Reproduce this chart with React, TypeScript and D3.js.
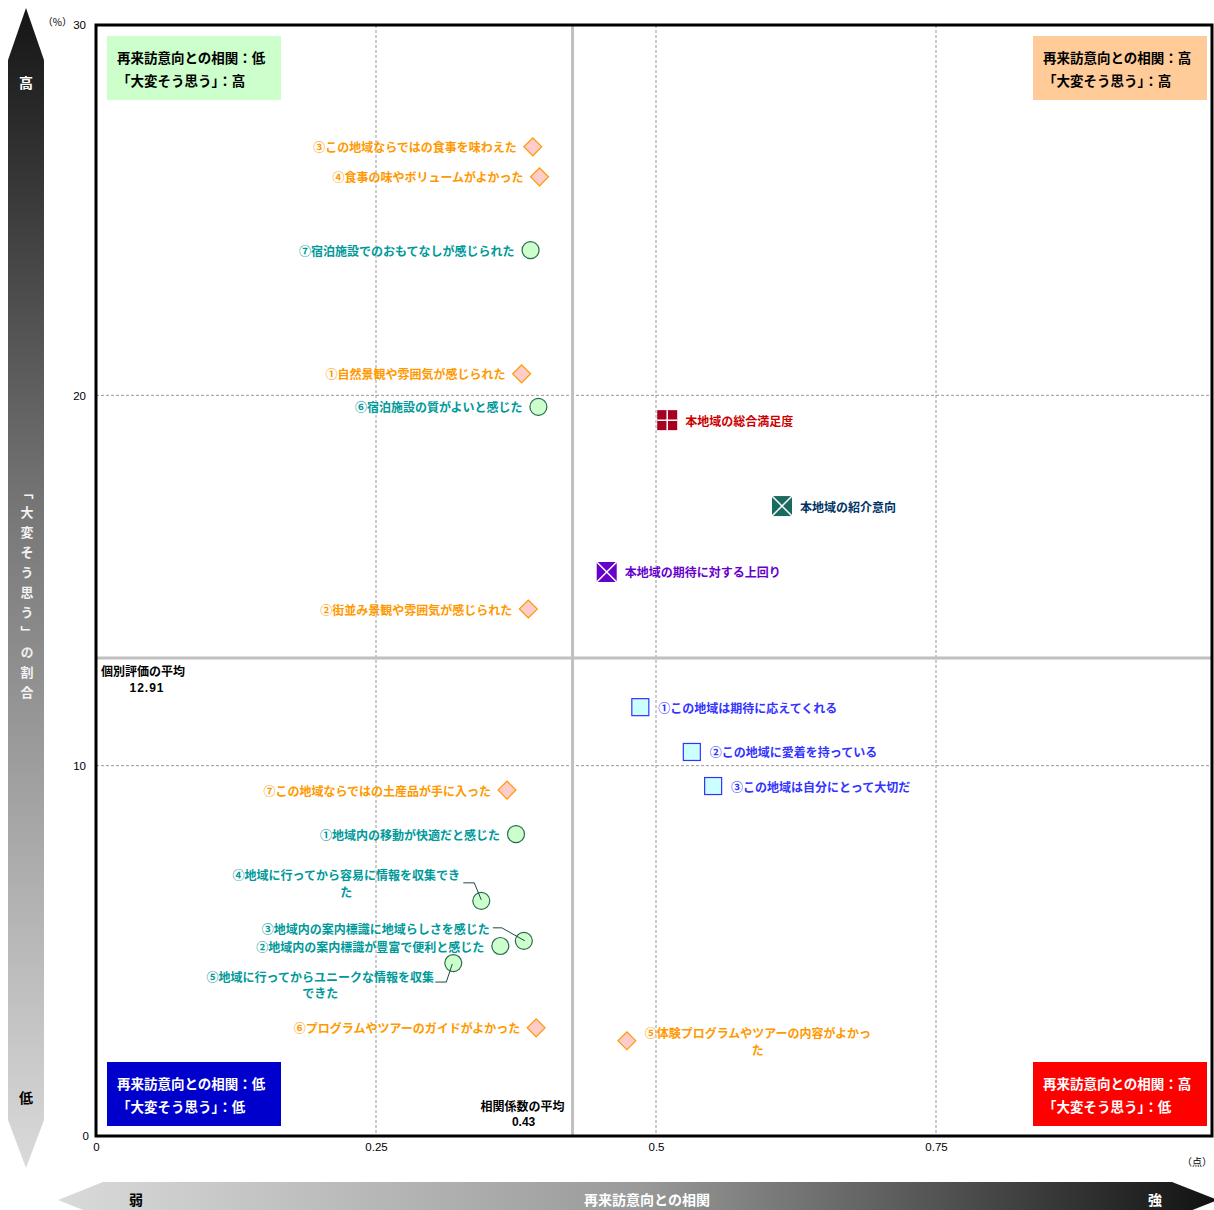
import { useEffect, useRef } from "react";
import * as d3 from "d3";

// 旅行体験の項目（◇）
const experienceItems = [
  "③この地域ならではの食事を味わえた",
  "④食事の味やボリュームがよかった",
  "①自然景観や雰囲気が感じられた",
  "②街並み景観や雰囲気が感じられた",
  "⑦この地域ならではの土産品が手に入った",
  "⑥プログラムやツアーのガイドがよかった",
  "⑤体験プログラムやツアーの内容がよかった",
];
const experienceCorr = [0.39, 0.396, 0.38, 0.386, 0.367, 0.393, 0.474];
const experienceShare = [26.71, 25.9, 20.58, 14.23, 9.34, 2.92, 2.57];

// 受入環境の項目（○）
const serviceItems = [
  "⑦宿泊施設でのおもてなしが感じられた",
  "⑥宿泊施設の質がよいと感じた",
  "①地域内の移動が快適だと感じた",
  "④地域に行ってから容易に情報を収集できた",
  "③地域内の案内標識に地域らしさを感じた",
  "②地域内の案内標識が豊富で便利と感じた",
  "⑤地域に行ってからユニークな情報を収集できた",
];
const serviceCorr = [0.388, 0.395, 0.375, 0.344, 0.382, 0.361, 0.319];
const serviceShare = [23.92, 19.69, 8.15, 6.35, 5.27, 5.13, 4.67];

// 地域への愛着（□）
const attachmentItems = [
  "①この地域は期待に応えてくれる",
  "②この地域に愛着を持っている",
  "③この地域は自分にとって大切だ",
];
const attachmentCorr = [0.486, 0.532, 0.551];
const attachmentShare = [11.58, 10.37, 9.45];

// 総合指標
const overallItems = ["本地域の総合満足度", "本地域の紹介意向", "本地域の期待に対する上回り"];
const overallCorr = [0.51, 0.6125, 0.456];
const overallShare = [19.33, 17.01, 15.23];

const meanCorr = 0.4255;
const meanShare = 12.91;
const meanCorrLabel = "0.43";
const meanShareLabel = "12.91";

const xTicks = [0, 0.25, 0.5, 0.75];
const xTickLabels = ["0", "0.25", "0.5", "0.75"];
const yTicks = [0, 10, 20, 30];

const quadrantLines = [
  ["再来訪意向との相関：低", "「大変そう思う」：高"],
  ["再来訪意向との相関：高", "「大変そう思う」：高"],
  ["再来訪意向との相関：低", "「大変そう思う」：低"],
  ["再来訪意向との相関：高", "「大変そう思う」：低"],
];

// ラベルの配置（既定は左側、右寄せ）
type Placement = { anchor: string; dx: number; lines?: string[]; dys?: number[]; leader?: [number, number][] };
const labelPlacement: Record<string, Placement> = {
  "⑤体験プログラムやツアーの内容がよかった": {
    anchor: "middle", dx: 131, lines: ["⑤体験プログラムやツアーの内容がよかっ", "た"], dys: [-8, 9],
  },
  "④地域に行ってから容易に情報を収集できた": {
    anchor: "middle", dx: -135, lines: ["④地域に行ってから容易に情報を収集でき", "た"], dys: [-26, -9],
    leader: [[-18, -18], [-7, -18], [0, -1]],
  },
  "③地域内の案内標識に地域らしさを感じた": {
    anchor: "end", dx: -34, dys: [-12], leader: [[-31, -13], [-22, -13], [1, 0]],
  },
  "⑤地域に行ってからユニークな情報を収集できた": {
    anchor: "middle", dx: -133, lines: ["⑤地域に行ってからユニークな情報を収集", "できた"], dys: [13, 29],
    leader: [[-1, 1], [-7, 19], [-18, 19]],
  },
};

const FONT = "'Noto Sans CJK JP', 'Noto Sans', sans-serif";
const NUM_FONT = "'Liberation Sans Narrow', 'Liberation Sans', Arial, sans-serif";

const App: React.FC = () => {
  const chartRef = useRef<SVGSVGElement | null>(null);

  useEffect(() => {
    if (!chartRef.current) return;
    const W = 1214;
    const H = 1210;
    const plot = { left: 96, top: 25, right: 1212, bottom: 1136 };

    const svg = d3.select(chartRef.current).html("").attr("width", W).attr("height", H);

    const x = d3.scaleLinear().domain([0, 1]).range([plot.left, 1216]);
    const y = d3.scaleLinear().domain([0, 30]).range([plot.bottom, plot.top]);

    const defs = svg.append("defs");
    const vGrad = defs.append("linearGradient").attr("id", "vgrad").attr("x1", 0).attr("y1", 0).attr("x2", 0).attr("y2", 1);
    vGrad.append("stop").attr("offset", "0%").attr("stop-color", "#151515");
    vGrad.append("stop").attr("offset", "45%").attr("stop-color", "#7a7a7a");
    vGrad.append("stop").attr("offset", "100%").attr("stop-color", "#dadada");
    const hGrad = defs.append("linearGradient").attr("id", "hgrad").attr("x1", 0).attr("y1", 0).attr("x2", 1).attr("y2", 0);
    hGrad.append("stop").attr("offset", "0%").attr("stop-color", "#dadada");
    hGrad.append("stop").attr("offset", "50%").attr("stop-color", "#9a9a9a");
    hGrad.append("stop").attr("offset", "100%").attr("stop-color", "#111");

    svg.append("rect").attr("width", W).attr("height", H).attr("fill", "#fff");

    // 縦の矢印
    svg.append("polygon")
      .attr("points", "26,8 44,60 44,1120 26,1168 8,1120 8,60")
      .attr("fill", "url(#vgrad)");
    svg.append("text").attr("x", 26).attr("y", 82).attr("text-anchor", "middle").attr("dominant-baseline", "central")
      .attr("fill", "#fff").attr("font-family", FONT).attr("font-weight", "bold").attr("font-size", 14).text("高");
    svg.append("text").attr("x", 26).attr("y", 1097).attr("text-anchor", "middle").attr("dominant-baseline", "central")
      .attr("fill", "#000").attr("font-family", FONT).attr("font-weight", "bold").attr("font-size", 14).text("低");
    svg.append("text").attr("x", 27).attr("y", 486)
      .style("writing-mode", "vertical-rl").style("letter-spacing", "7px")
      .attr("fill", "#f2f2f2").attr("font-family", FONT).attr("font-weight", "bold").attr("font-size", 13)
      .text("「大変そう思う」の割合");

    // 横の矢印
    svg.append("polygon")
      .attr("points", "58,1200 103,1182 1172,1182 1218,1200 1172,1218 103,1218")
      .attr("fill", "url(#hgrad)");
    const arrowText = (tx: number, txt: string, fill: string) =>
      svg.append("text").attr("x", tx).attr("y", 1199).attr("text-anchor", "middle").attr("dominant-baseline", "central")
        .attr("fill", fill).attr("font-family", FONT).attr("font-weight", "bold").attr("font-size", 14).text(txt);
    arrowText(136, "弱", "#000");
    arrowText(647, "再来訪意向との相関", "#fff");
    arrowText(1155, "強", "#fff");

    // グリッド
    svg.append("g").selectAll("line").data(xTicks.slice(1)).join("line")
      .attr("x1", (d) => x(d)).attr("x2", (d) => x(d)).attr("y1", plot.top).attr("y2", plot.bottom)
      .attr("stroke", "#999").attr("stroke-dasharray", "3,2");
    svg.append("g").selectAll("line").data(yTicks.slice(1, 3)).join("line")
      .attr("y1", (d) => y(d)).attr("y2", (d) => y(d)).attr("x1", plot.left).attr("x2", plot.right)
      .attr("stroke", "#999").attr("stroke-dasharray", "3,2");

    // 平均線
    svg.append("line").attr("x1", x(meanCorr)).attr("x2", x(meanCorr)).attr("y1", plot.top).attr("y2", plot.bottom)
      .attr("stroke", "#c0c0c0").attr("stroke-width", 3);
    svg.append("line").attr("x1", plot.left).attr("x2", plot.right).attr("y1", y(meanShare)).attr("y2", y(meanShare))
      .attr("stroke", "#c0c0c0").attr("stroke-width", 3);

    // 枠
    svg.append("rect").attr("x", plot.left).attr("y", plot.top)
      .attr("width", plot.right - plot.left).attr("height", plot.bottom - plot.top)
      .attr("fill", "none").attr("stroke", "#000").attr("stroke-width", 3);

    // 軸
    const yAxis = svg.append("g").attr("transform", `translate(${plot.left - 10},0)`)
      .call(d3.axisLeft(y).tickValues(yTicks).tickSize(0).tickPadding(0));
    yAxis.select(".domain").remove();
    yAxis.selectAll("text").attr("font-family", NUM_FONT).attr("font-size", 11.5).attr("fill", "#000");
    yAxis.selectAll(".tick").filter((d) => d === 0).select("text").attr("dx", 3);
    const xAxis = svg.append("g").attr("transform", `translate(0,${plot.bottom + 7})`)
      .call(d3.axisBottom(x).tickValues(xTicks).tickFormat((_, i) => xTickLabels[i]).tickSize(0).tickPadding(0));
    xAxis.select(".domain").remove();
    xAxis.selectAll("text").attr("font-family", NUM_FONT).attr("font-size", 11.5).attr("fill", "#000");
    svg.append("text").attr("x", 72).attr("y", 26).attr("text-anchor", "end")
      .attr("font-family", FONT).attr("font-size", 10).text("（%）");
    svg.append("text").attr("x", 1212).attr("y", 1166).attr("text-anchor", "end")
      .attr("font-family", FONT).attr("font-size", 10).text("（点）");

    // 象限の説明
    const boxes = [
      { x: 107, y: 36, fill: "#ccffcc", color: "#000" },
      { x: 1033, y: 36, fill: "#ffcc99", color: "#000" },
      { x: 107, y: 1062, fill: "#0000cc", color: "#fff" },
      { x: 1033, y: 1062, fill: "#ff0000", color: "#fff" },
    ];
    boxes.forEach((b, i) => {
      svg.append("rect").attr("x", b.x).attr("y", b.y).attr("width", 174).attr("height", 64).attr("fill", b.fill);
      quadrantLines[i].forEach((t, j) => {
        svg.append("text").attr("x", b.x + 10).attr("y", b.y + 21 + j * 23).attr("dominant-baseline", "central")
          .attr("font-family", FONT).attr("font-weight", "bold").attr("font-size", 13.5).attr("fill", b.color).text(t);
      });
    });

    // 平均値ラベル
    const meanText = (tx: number, ty: number, txt: string, anchor: string, font: string) =>
      svg.append("text").attr("x", tx).attr("y", ty).attr("text-anchor", anchor).attr("dominant-baseline", "central")
        .attr("font-family", font).attr("font-weight", "bold").attr("font-size", 12).attr("fill", "#000").text(txt);
    meanText(plot.left + 5, y(meanShare) + 13, "個別評価の平均", "start", FONT);
    meanText(plot.left + 51, y(meanShare) + 30, meanShareLabel, "middle", NUM_FONT).style("letter-spacing", "1px");
    meanText(x(meanCorr) - 50, plot.bottom - 31, "相関係数の平均", "middle", FONT);
    meanText(x(meanCorr) - 49, plot.bottom - 14, meanCorrLabel, "middle", NUM_FONT);

    // ラベル描画
    const drawLabel = (name: string, cx: number, cy: number, color: string, side: "left" | "right") => {
      const p: Placement = labelPlacement[name] ?? (side === "left" ? { anchor: "end", dx: -16 } : { anchor: "start", dx: 18 });
      const lines = p.lines ?? [name];
      const dys = p.dys ?? [0];
      lines.forEach((ln, i) => {
        svg.append("text").attr("x", cx + p.dx).attr("y", cy + dys[i]).attr("text-anchor", p.anchor)
          .attr("dominant-baseline", "central").attr("font-family", FONT).attr("font-weight", "bold")
          .attr("font-size", 12).attr("fill", color).text(ln);
      });
    };
    const drawLeader = (name: string, cx: number, cy: number) => {
      const p = labelPlacement[name];
      if (!p || !p.leader) return;
      svg.append("path").attr("d", d3.line()(p.leader.map(([a, b]) => [cx + a, cy + b]) as [number, number][]))
        .attr("fill", "none").attr("stroke", "#1a4a40").attr("stroke-width", 1);
    };

    // ◇
    const diamond = d3.symbol().type(d3.symbolSquare).size(160)();
    experienceItems.forEach((name, i) => {
      const cx = x(experienceCorr[i]);
      const cy = y(experienceShare[i]);
      svg.append("path").attr("d", diamond).attr("transform", `translate(${cx},${cy}) rotate(45)`)
        .attr("fill", "#ffcccc").attr("stroke", "#ff9900").attr("stroke-width", 1.2);
      drawLabel(name, cx, cy, "#ff9900", experienceCorr[i] < meanCorr ? "left" : "right");
    });

    // ○
    serviceItems.forEach((name, i) => {
      const cx = x(serviceCorr[i]);
      const cy = y(serviceShare[i]);
      svg.append("circle").attr("cx", cx).attr("cy", cy).attr("r", 8.5)
        .attr("fill", "#ccffcc").attr("stroke", "#2a6a50").attr("stroke-width", 1.2);
      drawLeader(name, cx, cy);
      drawLabel(name, cx, cy, "#009999", "left");
    });

    // □
    attachmentItems.forEach((name, i) => {
      const cx = x(attachmentCorr[i]);
      const cy = y(attachmentShare[i]);
      svg.append("rect").attr("x", cx - 8.5).attr("y", cy - 8.5).attr("width", 17).attr("height", 17)
        .attr("fill", "#ccffff").attr("stroke", "#3333ff").attr("stroke-width", 1.2);
      drawLabel(name, cx, cy, "#3333ff", "right");
    });

    // 総合指標
    const overallStyle = [
      { fill: "#a50021", text: "#cc0000", mark: "cross" },
      { fill: "#1a6b5f", text: "#003366", mark: "x" },
      { fill: "#6600cc", text: "#6600cc", mark: "x" },
    ];
    overallItems.forEach((name, i) => {
      const cx = x(overallCorr[i]);
      const cy = y(overallShare[i]);
      const s = overallStyle[i];
      svg.append("rect").attr("x", cx - 10).attr("y", cy - 10).attr("width", 20).attr("height", 20).attr("fill", s.fill);
      const path = s.mark === "cross"
        ? `M${cx - 10},${cy}H${cx + 10}M${cx},${cy - 10}V${cy + 10}`
        : `M${cx - 10},${cy - 10}L${cx + 10},${cy + 10}M${cx + 10},${cy - 10}L${cx - 10},${cy + 10}`;
      svg.append("path").attr("d", path).attr("stroke", "#fff").attr("stroke-width", 1.5);
      drawLabel(name, cx, cy, s.text, "right");
    });
  }, []);

  return (
    <div style={{ position: "absolute", left: 0, top: 0 }}>
      <svg ref={chartRef} style={{ display: "block" }}></svg>
    </div>
  );
};

export default App;
